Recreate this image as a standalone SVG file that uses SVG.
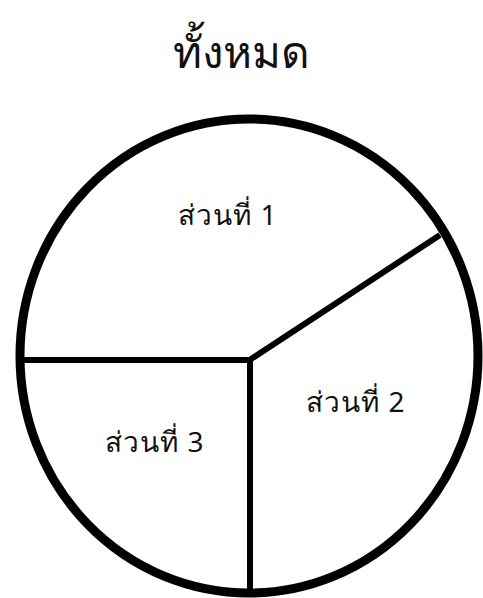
<svg xmlns="http://www.w3.org/2000/svg" width="483" height="598" viewBox="0 0 483 598">
<style>
.t{font-family:"Noto Sans","DejaVu Sans",sans-serif;fill:#111;text-anchor:middle}
.lbl{font-size:28px;letter-spacing:1px}
.ttl{font-size:44px}
.ln{stroke:#000;stroke-width:6;fill:none;stroke-linecap:butt}
</style>
<rect width="483" height="598" fill="#fff"/>
<g id="title"><text class="t ttl" x="241" y="68">ทั้งหมด</text></g>
<g id="circle"><ellipse cx="249" cy="356" rx="229" ry="237" fill="none" stroke="#000" stroke-width="9"/></g>
<g id="connectors">
<line class="ln" x1="20" y1="360" x2="250" y2="360"/>
<line class="ln" x1="250" y1="357" x2="250" y2="592"/>
<line class="ln" x1="248" y1="361" x2="440" y2="235"/>
</g>
<g id="part1"><text class="t lbl" x="228" y="225">ส่วนที่ 1</text></g>
<g id="part2"><text class="t lbl" x="356" y="412">ส่วนที่ 2</text></g>
<g id="part3"><text class="t lbl" x="155" y="452">ส่วนที่ 3</text></g>
</svg>
